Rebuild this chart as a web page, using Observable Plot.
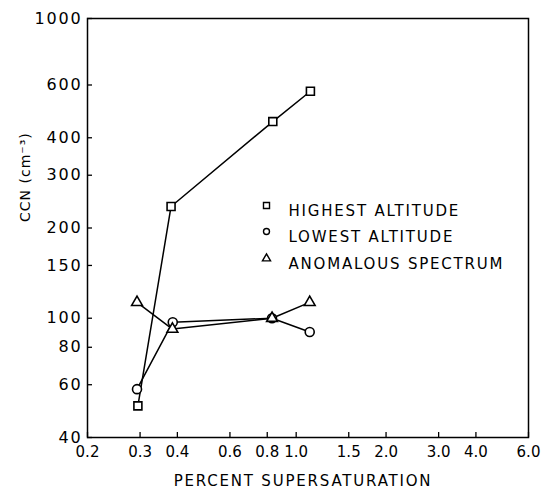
<!DOCTYPE html>
<html><head><meta charset="utf-8">
<script src="https://cdn.jsdelivr.net/npm/d3@7"></script>
<script src="https://cdn.jsdelivr.net/npm/@observablehq/plot@0.6"></script>
<style>body{margin:0;background:#fff}</style>
</head><body><div id="chart"></div>
<script>
const seriesNames = ["HIGHEST ALTITUDE", "LOWEST ALTITUDE", "ANOMALOUS SPECTRUM"];
const highestX = [0.295, 0.381, 0.835, 1.116];
const highestY = [51, 236, 453, 572];
const lowestX = [0.293, 0.386, 0.83, 1.11];
const lowestY = [58, 97, 100, 90];
const anomX = [0.293, 0.385, 0.83, 1.11];
const anomY = [113, 92, 100, 113];
const xTicks = [0.2, 0.3, 0.4, 0.6, 0.8, 1.0, 1.5, 2.0, 3.0, 4.0, 6.0];
const xTickLabels = ["0.2", "0.3", "0.4", "0.6", "0.8", "1.0", "1.5", "2.0", "3.0", "4.0", "6.0"];
const yTicks = [40, 60, 80, 100, 150, 200, 300, 400, 600, 1000];
const yTickLabels = ["40", "60", "80", "100", "150", "200", "300", "400", "600", "1000"];
const xTitle = "PERCENT SUPERSATURATION";
const yTitle = "CCN (cm⁻³)";

const toRows = (xs, ys, s) => xs.map((x, i) => ({x, y: ys[i], s}));
const high = toRows(highestX, highestY, seriesNames[0]);
const low = toRows(lowestX, lowestY, seriesNames[1]);
const anom = toRows(anomX, anomY, seriesNames[2]);
const xTickRows = xTicks.map((v, i) => ({v, label: xTickLabels[i]}));
const yTickRows = yTicks.map((v, i) => ({v, label: yTickLabels[i]}));

const sw = 1.5;
const legendDot = (name, symbol, r, dy) => Plot.dot([name], {frameAnchor: "top-left", dx: 179, dy, symbol, r, stroke: "black", strokeWidth: 1.4, fill: "white"});
const legendText = (name, dy) => Plot.text([name], {frameAnchor: "top-left", dx: 201, dy, text: d => d, textAnchor: "start", fontSize: 15, fill: "black"});

const chart = Plot.plot({
  width: 543,
  height: 490,
  marginLeft: 87,
  marginRight: 15,
  marginTop: 18,
  marginBottom: 53,
  style: {fontFamily: "DejaVu Sans", fontSize: "16px", color: "black", background: "white", letterSpacing: "1.8px"},
  x: {type: "log", domain: [0.2, 6], axis: null},
  y: {type: "log", domain: [40, 1000], axis: null},
  marks: [
    Plot.frame({stroke: "black", strokeWidth: 1.5}),
    Plot.tickX(xTickRows, {x: "v", insetTop: 414, stroke: "black", strokeWidth: 1.3}),
    Plot.tickY(yTickRows, {y: "v", insetRight: 436, stroke: "black", strokeWidth: 1.3}),
    Plot.text(xTickRows, {x: "v", text: "label", frameAnchor: "bottom", dy: 15, dx: 0, fontSize: 15, lineAnchor: "middle"}),
    Plot.text(yTickRows, {y: "v", text: "label", frameAnchor: "left", dx: -5, textAnchor: "end", fontSize: 16, lineAnchor: "middle"}),
    Plot.text([xTitle], {frameAnchor: "bottom", dx: -5, dy: 44, text: d => d, fontSize: 15, lineAnchor: "middle"}),
    Plot.text([yTitle], {frameAnchor: "left", dx: -62, dy: -6, rotate: -90, text: d => d, fontSize: 14, lineAnchor: "middle"}),
    Plot.line(high, {x: "x", y: "y", stroke: "black", strokeWidth: sw}),
    Plot.line(low, {x: "x", y: "y", stroke: "black", strokeWidth: sw}),
    Plot.line(anom, {x: "x", y: "y", stroke: "black", strokeWidth: sw}),
    Plot.dot(high, {x: "x", y: "y", symbol: "square", r: 4.5, stroke: "black", strokeWidth: 1.6, fill: "white"}),
    Plot.dot(low, {x: "x", y: "y", symbol: "circle", r: 4.5, stroke: "black", strokeWidth: 1.6, fill: "white"}),
    Plot.dot(anom, {x: "x", y: "y", symbol: "triangle", r: 4, stroke: "black", strokeWidth: 1.6, fill: "white"}),
    legendDot(seriesNames[0], "square", 3.4, 187),
    legendDot(seriesNames[1], "circle", 3, 213),
    legendDot(seriesNames[2], "triangle", 3, 240),
    legendText(seriesNames[0], 187),
    legendText(seriesNames[1], 213),
    legendText(seriesNames[2], 240)
  ]
});
// per-group letter spacing (text marks in mark order)
const textGroups = d3.select(chart).selectAll('g[aria-label="text"]').nodes();
if (textGroups[0]) textGroups[0].style.letterSpacing = "0px";
if (textGroups[3]) textGroups[3].style.letterSpacing = "1px";
document.getElementById("chart").appendChild(chart);
</script>
</body></html>
